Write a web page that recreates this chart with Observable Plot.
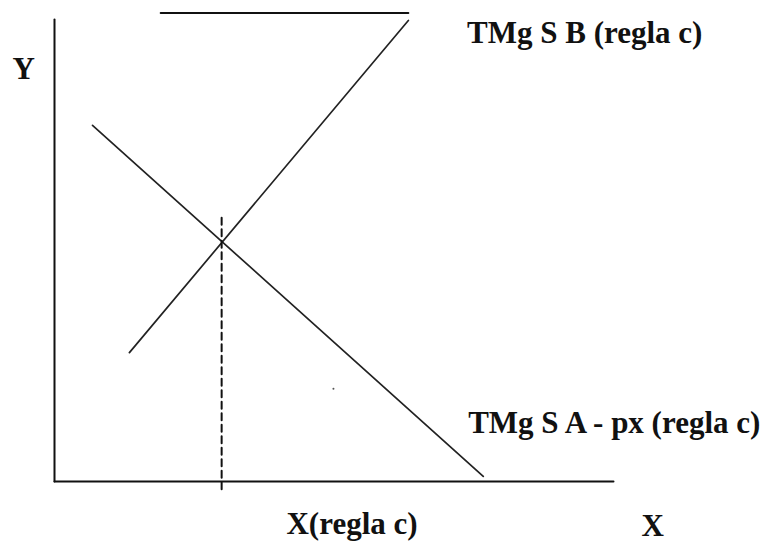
<!DOCTYPE html>
<html>
<head>
<meta charset="utf-8">
<script src="https://cdn.jsdelivr.net/npm/d3@7"></script>
<script src="https://cdn.jsdelivr.net/npm/@observablehq/plot@0.6"></script>
<style>
  html, body { margin: 0; padding: 0; background: #fff; }
  svg { display: block; }
</style>
</head>
<body>
<div id="chart"></div>
<script>
// Abstract diagram coordinates (x: 0..10 along X axis, y: 0..10 along Y axis)
const axisX = [0, 10];
const axisY = [0, 10];

// TMg S B (regla c) — rising curve
const riseX = [1.34, 6.33];
const riseY = [2.79, 9.98];

// TMg S A - px (regla c) — falling curve
const fallX = [0.68, 7.67];
const fallY = [7.71, 0.11];

// Horizontal line at the top
const topX = [1.90, 6.33];
const topY = [10.14, 10.14];

// Equilibrium dashed guide
const eqX = [2.99, 2.99];
const eqY = [5.71, -0.26];

// Stray dot
const dotX = [4.99];
const dotY = [2.01];

// Labels
const labelText = ["Y", "TMg S B (regla c)", "TMg S A - px (regla c)", "X(regla c)", "X"];
const labelX    = [-0.75, 7.38, 7.40, 4.15, 10.50];
const labelY    = [8.72, 9.50, 1.06, -1.13, -1.17];

const pts = (xs, ys) => xs.map((x, i) => ({x, y: ys[i]}));
const labels = labelText.map((t, i) => ({t, x: labelX[i], y: labelY[i]}));

const chart = Plot.plot({
  width: 766,
  height: 542,
  marginLeft: 54,
  marginRight: 153,
  marginTop: 19,
  marginBottom: 61,
  x: {domain: axisX, axis: null},
  y: {domain: axisY, axis: null},
  style: {background: "#fff", fontFamily: "'Liberation Serif', 'Times New Roman', serif", overflow: "visible"},
  marks: [
    Plot.line(pts([0, 0], axisY), {x: "x", y: "y", stroke: "#111", strokeWidth: 2}),
    Plot.line(pts(axisX, [0, 0]), {x: "x", y: "y", stroke: "#111", strokeWidth: 2}),
    Plot.line(pts(topX, topY), {x: "x", y: "y", stroke: "#111", strokeWidth: 2}),
    Plot.line(pts(riseX, riseY), {x: "x", y: "y", stroke: "#222", strokeWidth: 1.7}),
    Plot.line(pts(fallX, fallY), {x: "x", y: "y", stroke: "#222", strokeWidth: 1.7}),
    Plot.line(pts(eqX, eqY), {x: "x", y: "y", stroke: "#111", strokeWidth: 2, strokeDasharray: "7,4.5"}),
    Plot.dot(pts(dotX, dotY), {x: "x", y: "y", r: 1, fill: "#555", stroke: "none"}),
    Plot.text(labels, {
      x: "x", y: "y", text: "t",
      textAnchor: "start", lineAnchor: "bottom",
      fontSize: 31, fontWeight: "bold", fill: "#111",
      fontFamily: "'Liberation Serif', 'Times New Roman', serif"
    })
  ]
});
document.getElementById("chart").appendChild(chart);
</script>
</body>
</html>
